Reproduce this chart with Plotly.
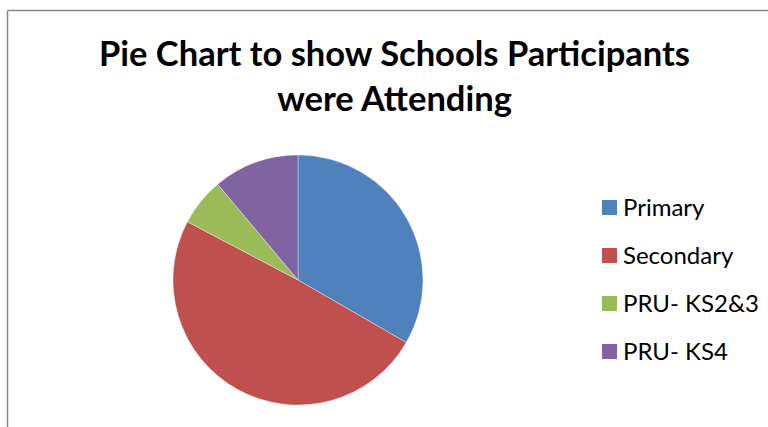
import plotly.graph_objects as go

# School types and participant counts
categories = ["Primary", "Secondary", "PRU- KS2&3", "PRU- KS4"]
participants = [27, 40, 5, 9]
colors = ["#4F81BD", "#C0504D", "#9BBB59", "#8064A2"]

W, H = 768, 427
FONT = "Lato"


def px(x):
    return x / W


def py(y):
    return 1 - y / H


fig = go.Figure(
    go.Pie(
        labels=categories,
        values=participants,
        marker=dict(colors=colors, line=dict(color="rgba(255,255,255,0.6)", width=0.6)),
        sort=False,
        direction="clockwise",
        rotation=0,
        textinfo="none",
        hoverinfo="label+value+percent",
        showlegend=False,
        domain=dict(x=[px(173), px(423)], y=[py(405), py(155)]),
    )
)

shapes = [
    # chart frame (top and left edges)
    dict(type="line", xref="paper", yref="paper", x0=px(7.5), x1=1.0, y0=py(10.5), y1=py(10.5),
         line=dict(color="#888888", width=1.5)),
    dict(type="line", xref="paper", yref="paper", x0=px(7.5), x1=px(7.5), y0=py(10.5), y1=0.0,
         line=dict(color="#888888", width=1.5)),
]
annotations = [
    dict(text="<b>Pie Chart to show Schools Participants<br>were Attending</b>",
         xref="paper", yref="paper", x=px(394.5), y=py(75), xanchor="center", yanchor="middle",
         showarrow=False, font=dict(family=FONT, size=34.5, color="#000000"), align="center"),
]

# Legend: colour square plus label for each category
row_centers = [207.5, 255.5, 303.5, 351.5]
for name, col, yc in zip(categories, colors, row_centers):
    shapes.append(dict(type="rect", xref="paper", yref="paper",
                       x0=px(602), x1=px(617), y0=py(yc + 7.5), y1=py(yc - 7.5),
                       fillcolor=col, line=dict(width=0)))
    annotations.append(dict(text=name, xref="paper", yref="paper", x=px(621), y=py(yc - 1.5),
                            xanchor="left", yanchor="middle", showarrow=False,
                            font=dict(family=FONT, size=24, color="#000000")))

fig.update_layout(
    width=W, height=H,
    margin=dict(l=0, r=0, t=0, b=0),
    paper_bgcolor="white",
    plot_bgcolor="white",
    shapes=shapes,
    annotations=annotations,
)

fig.write_html("out.html")
